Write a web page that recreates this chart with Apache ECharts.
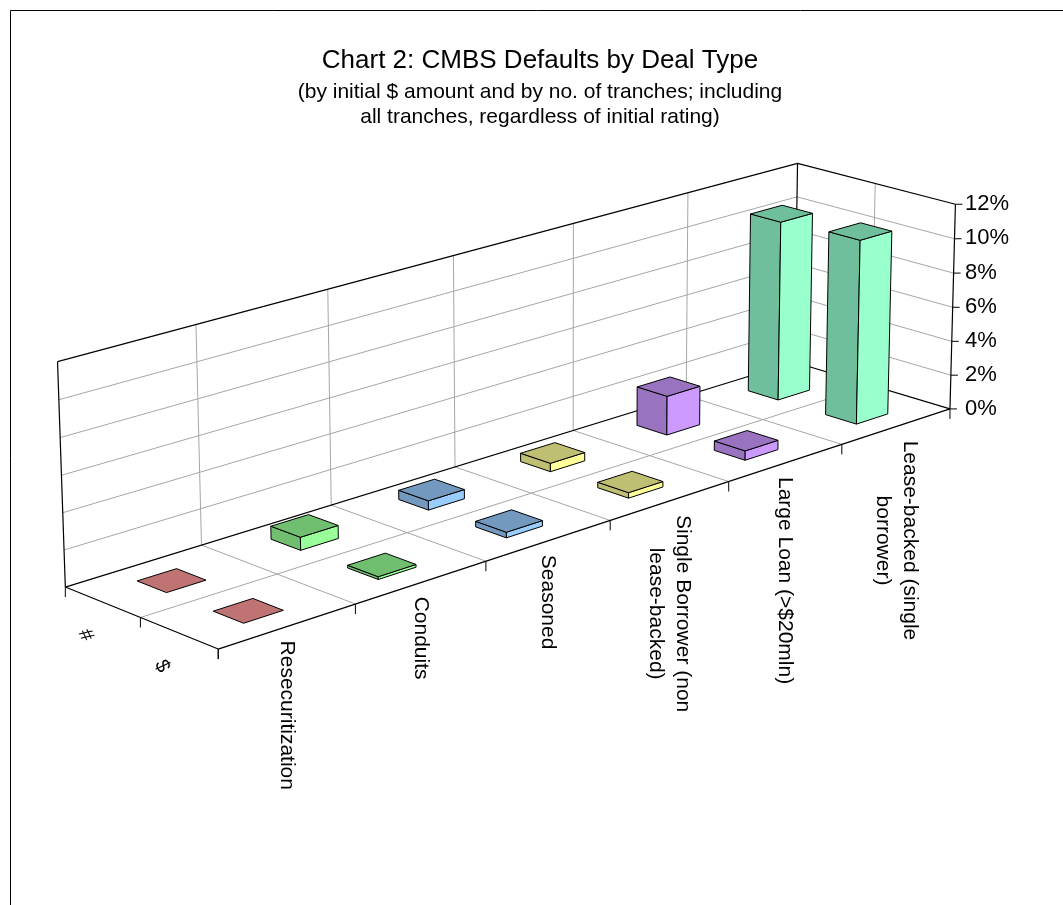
<!DOCTYPE html>
<html>
<head>
<meta charset="utf-8">
<title>CMBS Defaults by Deal Type</title>
<script src="https://cdn.jsdelivr.net/npm/echarts/dist/echarts.min.js"></script>
<style>
  html, body { margin: 0; padding: 0; background: #ffffff; }
  #chart { width: 1063px; height: 905px; }
</style>
</head>
<body>
<div id="chart"></div>
<script>
// ---- data -------------------------------------------------------------
const categories = [
  'Resecuritization',
  'Conduits',
  'Seasoned',
  'Single Borrower (non\nlease-backed)',
  'Large Loan (>$20mln)',
  'Lease-backed (single\nborrower)'
];
const seriesNames = ['#', '$'];
// default rate by number of tranches (back row) and by initial $ amount (front row), in %
const byTranches = [0, 0.72, 0.52, 0.48, 2.26, 10.5];
const byAmount   = [0, 0.15, 0.31, 0.31, 0.54, 10.7];
const valueTicks = [0, 2, 4, 6, 8, 10, 12];

// ---- styles -----------------------------------------------------------
const FONT = '"Liberation Sans", Arial, Helvetica, sans-serif';
const frontColors = ['#FF9999', '#99FF99', '#99CCFF', '#FFFF99', '#CC99FF', '#99FFCC'];
const shadeColors = ['#BF7373', '#70BF70', '#7399BF', '#BFBF73', '#9973BF', '#70BF9C'];
const GRID_GRAY = '#A6A6A6';
const VMAX = valueTicks[valueTicks.length - 1];
const NCAT = categories.length;
const NROW = seriesNames.length;
const HALF_W = 0.145;   // half bar width, in category units
const HALF_D = 0.195;   // half bar depth, in row units

// ---- perspective camera of the 3D plot box ----------------------------
// box coordinates: x = category position (0..6), y = value in %, z = row (0 back .. 2 front)
// each anchor: [x, y, z, screenX, screenY]
const BOX_ANCHORS = [
  [0, 0, 0, 65, 587.3], [1, 0, 0, 201, 544], [2, 0, 0, 331.7, 506.7],
  [3, 0, 0, 455, 466], [4, 0, 0, 574.3, 428.3], [6, 0, 0, 795, 363],
  [0, 0, 2, 218.5, 648.5], [1, 0, 2, 356, 604], [2, 0, 2, 486.5, 561.7],
  [3, 0, 2, 610, 520.7], [4, 0, 2, 728.3, 482.7], [5, 0, 2, 841.7, 445],
  [6, 0, 2, 949.3, 409.3], [0, 0, 1, 140, 617.3],
  [0, 12, 0, 57.7, 361.7], [1, 12, 0, 196.7, 325], [2, 12, 0, 327.7, 290],
  [3, 12, 0, 453.3, 256.5], [4, 12, 0, 573.3, 223.3], [5, 12, 0, 687.3, 194],
  [6, 12, 0, 797.3, 162.7], [6, 12, 2, 956, 203.3],
  [0, 2, 0, 63.7, 550], [0, 4, 0, 62.5, 512.7], [0, 6, 0, 61.2, 475],
  [0, 8, 0, 60, 437.3], [0, 10, 0, 58.8, 399.3],
  [6, 2, 2, 950.4, 375.7], [6, 4, 2, 951.5, 341], [6, 6, 2, 952.6, 306.7],
  [6, 8, 2, 953.7, 272.7], [6, 10, 2, 954.8, 238.3]
];

function solveLinear(M, r) {
  const n = r.length;
  const A = M.map((row, i) => row.concat([r[i]]));
  for (let c = 0; c < n; c++) {
    let p = c;
    for (let i = c + 1; i < n; i++) if (Math.abs(A[i][c]) > Math.abs(A[p][c])) p = i;
    [A[c], A[p]] = [A[p], A[c]];
    for (let i = c + 1; i < n; i++) {
      const f = A[i][c] / A[c][c];
      for (let k = c; k <= n; k++) A[i][k] -= f * A[c][k];
    }
  }
  const s = new Array(n).fill(0);
  for (let i = n - 1; i >= 0; i--) {
    let acc = A[i][n];
    for (let k = i + 1; k < n; k++) acc -= A[i][k] * s[k];
    s[i] = acc / A[i][i];
  }
  return s;
}

// least-squares fit of a 3x4 projective camera (last entry fixed at 1)
function fitCamera(anchors) {
  const rows = [], rhs = [];
  anchors.forEach(([x, y, z, u, v]) => {
    rows.push([x, y, z, 1, 0, 0, 0, 0, -u * x, -u * y, -u * z]); rhs.push(u);
    rows.push([0, 0, 0, 0, x, y, z, 1, -v * x, -v * y, -v * z]); rhs.push(v);
  });
  const n = 11;
  const M = Array.from({ length: n }, () => new Array(n).fill(0));
  const r = new Array(n).fill(0);
  rows.forEach((row, k) => {
    for (let i = 0; i < n; i++) {
      r[i] += row[i] * rhs[k];
      for (let j = 0; j < n; j++) M[i][j] += row[i] * row[j];
    }
  });
  return solveLinear(M, r);
}

const CAM = fitCamera(BOX_ANCHORS);
function project(x, y, z) {
  const w = CAM[8] * x + CAM[9] * y + CAM[10] * z + 1;
  return [
    (CAM[0] * x + CAM[1] * y + CAM[2] * z + CAM[3]) / w,
    (CAM[4] * x + CAM[5] * y + CAM[6] * z + CAM[7]) / w
  ];
}

// ---- box frame: walls, floor, gridlines, ticks -------------------------
const frame = [];
function seg(a, b, color, width) {
  frame.push({
    type: 'line', silent: true, z: 0,
    shape: { x1: a[0], y1: a[1], x2: b[0], y2: b[1] },
    style: { stroke: color, lineWidth: width || 1 }
  });
}
// gridlines (gray)
valueTicks.slice(1, -1).forEach(t => {
  seg(project(0, t, 0), project(NCAT, t, 0), GRID_GRAY);      // back wall
  seg(project(NCAT, t, 0), project(NCAT, t, NROW), GRID_GRAY); // side wall
});
for (let i = 1; i < NCAT; i++) {
  seg(project(i, 0, 0), project(i, VMAX, 0), GRID_GRAY);       // back wall verticals
  seg(project(i, 0, 0), project(i, 0, NROW), GRID_GRAY);       // floor, across rows
}
for (let r = 1; r < NROW; r++) {
  seg(project(0, 0, r), project(NCAT, 0, r), GRID_GRAY);       // floor, along categories
  seg(project(NCAT, 0, r), project(NCAT, VMAX, r), GRID_GRAY); // side wall vertical
}
// box edges (black)
const K = '#000000';
const EDGE = 1.2;
seg(project(0, 0, 0), project(NCAT, 0, 0), K, EDGE);
seg(project(0, VMAX, 0), project(NCAT, VMAX, 0), K, EDGE);
seg(project(0, 0, 0), project(0, VMAX, 0), K, EDGE);
seg(project(NCAT, 0, 0), project(NCAT, VMAX, 0), K, EDGE);
seg(project(NCAT, VMAX, 0), project(NCAT, VMAX, NROW), K, EDGE);
seg(project(NCAT, 0, 0), project(NCAT, 0, NROW), K, EDGE);
seg(project(0, 0, 0), project(0, 0, NROW), K, EDGE);
seg(project(0, 0, NROW), project(NCAT, 0, NROW), K, EDGE);
seg(project(NCAT, 0, NROW), project(NCAT, VMAX, NROW), K, EDGE);
// ticks
for (let i = 0; i <= NCAT; i++) {
  const p = project(i, 0, NROW);
  seg(p, [p[0], p[1] + 10], K);
}
for (let r = 0; r <= NROW; r++) {
  const p = project(0, 0, r);
  seg(p, [p[0], p[1] + 10], K);
}
valueTicks.forEach(t => {
  const p = project(NCAT, t, NROW);
  seg(p, [p[0] + 7, p[1]], K);
});

// ---- text: category labels, row labels, titles -------------------------
const measureCtx = document.createElement('canvas').getContext('2d');
function textWidth(str, size) {
  measureCtx.font = size + 'px ' + FONT;
  return Math.max.apply(null, str.split('\n').map(s => measureCtx.measureText(s).width));
}
const texts = [];
const CAT_FONT = 21;
categories.forEach((name, i) => {
  const a = project(i, 0, NROW), b = project(i + 1, 0, NROW);
  const mid = [(a[0] + b[0]) / 2, (a[1] + b[1]) / 2];
  const w = textWidth(name, CAT_FONT);
  texts.push({
    type: 'text', silent: true, z: 5,
    x: mid[0], y: mid[1] + 14 + w / 2, rotation: -Math.PI / 2,
    style: {
      text: name, fill: '#000', font: CAT_FONT + 'px ' + FONT,
      align: 'center', verticalAlign: 'middle', lineHeight: 27
    }
  });
});
seriesNames.forEach((name, r) => {
  const p = project(0, 0, r + 0.5);
  texts.push({
    type: 'text', silent: true, z: 5,
    x: p[0] - 17, y: p[1] + 33, rotation: -65 * Math.PI / 180,
    style: { text: name, fill: '#000', font: '20px ' + FONT, align: 'center', verticalAlign: 'middle' }
  });
});
const titleLines = [
  { text: 'Chart 2: CMBS Defaults by Deal Type', size: 26, y: 61 },
  { text: '(by initial $ amount and by no. of tranches; including', size: 21, y: 92 },
  { text: 'all tranches, regardless of initial rating)', size: 21, y: 117 }
];
titleLines.forEach(t => texts.push({
  type: 'text', silent: true, z: 5, x: 540, y: t.y,
  style: { text: t.text, fill: '#000', font: t.size + 'px ' + FONT, align: 'center', verticalAlign: 'middle' }
}));
// chart area outline (runs off the right and bottom of the page)
const border = {
  type: 'rect', silent: true, z: 0,
  shape: { x: 10.5, y: 10.5, width: 1100, height: 1000 },
  style: { fill: 'none', stroke: '#000', lineWidth: 1 }
};

// ---- bars ---------------------------------------------------------------
function barRenderer(row) {
  return function (params, api) {
    const cat = api.value(0);
    const base = api.coord([0, 0])[1];
    const top = api.coord([0, VMAX])[1];
    const level = (base - api.coord([cat, api.value(1)])[1]) / (base - top) * VMAX;
    const cx = cat + 0.5, cz = row + 0.5;
    const x0 = cx - HALF_W, x1 = cx + HALF_W, z0 = cz - HALF_D, z1 = cz + HALF_D;
    const face = fill => ({ fill: fill, stroke: '#000', lineWidth: 1, lineJoin: 'round' });
    const dark = shadeColors[cat], light = frontColors[cat];
    const children = [];
    if (level > 0.001) {
      children.push({ type: 'polygon', shape: { points: [project(x0, 0, z0), project(x0, 0, z1), project(x0, level, z1), project(x0, level, z0)] }, style: face(dark) });
      children.push({ type: 'polygon', shape: { points: [project(x0, 0, z1), project(x1, 0, z1), project(x1, level, z1), project(x0, level, z1)] }, style: face(light) });
    }
    children.push({ type: 'polygon', shape: { points: [project(x0, level, z0), project(x1, level, z0), project(x1, level, z1), project(x0, level, z1)] }, style: face(dark) });
    return { type: 'group', children: children };
  };
}
// far bars first so nearer ones paint over them
const rowData = arr => arr.map((v, i) => [i, v]).reverse();

// value axis sits on the front-right edge of the box
const axisBottom = project(NCAT, 0, NROW);
const axisTop = project(NCAT, VMAX, NROW);

const chart = echarts.init(document.getElementById('chart'), null, { renderer: 'canvas' });
chart.setOption({
  animation: false,
  backgroundColor: '#ffffff',
  grid: {
    left: axisBottom[0] - 10, width: 10,
    top: axisTop[1], height: axisBottom[1] - axisTop[1]
  },
  xAxis: { type: 'value', min: 0, max: NCAT, show: false },
  yAxis: {
    type: 'value', position: 'right', min: 0, max: VMAX, interval: 2,
    axisLine: { show: false }, axisTick: { show: false }, splitLine: { show: false },
    axisLabel: { margin: 15, formatter: '{value}%', color: '#000', fontSize: 22, fontFamily: FONT }
  },
  graphic: { elements: [border].concat(frame, texts) },
  series: [
    { type: 'custom', name: seriesNames[0], clip: false, renderItem: barRenderer(0), encode: { x: 0, y: 1 }, data: rowData(byTranches) },
    { type: 'custom', name: seriesNames[1], clip: false, renderItem: barRenderer(1), encode: { x: 0, y: 1 }, data: rowData(byAmount) }
  ]
});
</script>
</body>
</html>
